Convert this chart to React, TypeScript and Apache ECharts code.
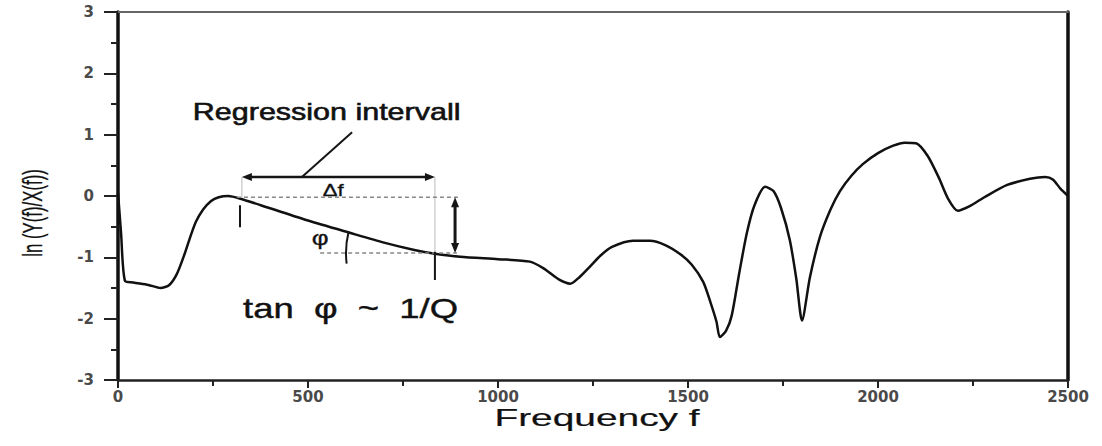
import React, { useEffect, useRef } from "react";
import * as echarts from "echarts";

// Frequency f (x) and ln(Y(f)/X(f)) (y)
const FREQ = [
  0, 8, 18, 40, 80, 112, 135, 155, 175, 190, 205, 224, 245, 265, 290, 320, 400, 500, 610, 700,
  780, 834, 900, 1000, 1084, 1120, 1160, 1190, 1215, 1242, 1270, 1300, 1355, 1400, 1440, 1480,
  1510, 1540, 1560, 1575, 1584, 1600, 1615, 1635, 1655, 1675, 1703, 1725, 1745, 1768, 1785, 1800,
  1821, 1847, 1875, 1900, 1930, 1960, 2000, 2040, 2070, 2100, 2130, 2160, 2185, 2210, 2240, 2280,
  2340, 2400, 2440, 2460, 2480, 2500,
];
const LN_RATIO = [
  0.05, -0.6, -1.38, -1.41, -1.45, -1.5, -1.45, -1.27, -0.95, -0.67, -0.42, -0.22, -0.08, -0.02,
  0.0, -0.04, -0.2, -0.4, -0.6, -0.76, -0.88, -0.94, -0.99, -1.03, -1.07, -1.18, -1.36, -1.43,
  -1.32, -1.15, -0.97, -0.83, -0.73, -0.73, -0.8, -0.95, -1.12, -1.4, -1.75, -2.05, -2.3, -2.2,
  -1.95, -1.25, -0.6, -0.15, 0.15, 0.08, -0.2, -0.72, -1.35, -2.03, -1.32, -0.67, -0.22, 0.08,
  0.33, 0.52, 0.7, 0.82, 0.87, 0.86, 0.66, 0.3, -0.05, -0.24, -0.17, -0.02, 0.18, 0.28, 0.31,
  0.27, 0.12, 0.0,
];
const X_TICKS = [0, 500, 1000, 1500, 2000, 2500];
const Y_TICKS = [-3, -2, -1, 0, 1, 2, 3];

export default function App() {
  const ref = useRef<HTMLDivElement>(null);
  useEffect(() => {
    if (!ref.current) return;
    const chart = echarts.init(ref.current, null, { renderer: "svg" });
    const xMin = X_TICKS[0];
    const xMax = X_TICKS[X_TICKS.length - 1];
    const yMin = Y_TICKS[0];
    const yMax = Y_TICKS[Y_TICKS.length - 1];
    const labelStyle = {
      fontFamily: "DejaVu Sans",
      fontWeight: "bold" as const,
      fontSize: 15,
      color: "#4a4a4a",
    };
    chart.setOption({
      animation: false,
      backgroundColor: "#fff",
      grid: { left: 118, right: 34, top: 12, bottom: 66 },
      xAxis: [
        {
          type: "value",
          position: "bottom",
          min: xMin,
          max: xMax,
          interval: 500,
          axisLine: { show: true, onZero: false, lineStyle: { color: "#222", width: 2.5 } },
          axisTick: { show: true, inside: false, length: 8, lineStyle: { color: "#222", width: 2 } },
          minorTick: { show: true, splitNumber: 2, length: 6, lineStyle: { color: "#222", width: 2 } },
          axisLabel: { ...labelStyle, margin: 9, formatter: (v: number) => String(v) },
          splitLine: { show: false },
        },
        {
          type: "value",
          position: "top",
          min: xMin,
          max: xMax,
          axisLine: { show: true, onZero: false, lineStyle: { color: "#666", width: 2 } },
          axisTick: { show: false },
          axisLabel: { show: false },
          splitLine: { show: false },
        },
      ],
      yAxis: [
        {
          type: "value",
          position: "left",
          min: yMin,
          max: yMax,
          interval: 1,
          axisLine: { show: true, onZero: false, lineStyle: { color: "#111", width: 3.5 } },
          axisTick: { show: true, inside: false, length: 14, lineStyle: { color: "#222", width: 2 } },
          minorTick: { show: true, splitNumber: 2, length: 7, lineStyle: { color: "#222", width: 2 } },
          axisLabel: { ...labelStyle, margin: 24 },
          splitLine: { show: false },
        },
        {
          type: "value",
          position: "right",
          min: yMin,
          max: yMax,
          axisLine: { show: true, onZero: false, lineStyle: { color: "#111", width: 3.5 } },
          axisTick: { show: false },
          axisLabel: { show: false },
          splitLine: { show: false },
        },
      ],
      series: [
        {
          type: "line",
          xAxisIndex: 0,
          yAxisIndex: 0,
          data: FREQ.map((f, i) => [f, LN_RATIO[i]]),
          smooth: 0.25,
          showSymbol: false,
          symbol: "none",
          lineStyle: { color: "#111", width: 2.5 },
          z: 3,
        },
      ],
    });

    const P = (f: number, v: number) => chart.convertToPixel({ gridIndex: 0 }, [f, v]) as number[];
    const dark = "#151515";
    const faint = "#bbb";
    const line = (a: number[], b: number[], stroke: string, lineWidth: number, dash?: number[]) => ({
      type: "line",
      shape: { x1: a[0], y1: a[1], x2: b[0], y2: b[1] },
      style: { stroke, lineWidth, lineDash: dash },
      z: 10,
    });
    const head = (tip: number[], dir: "l" | "r" | "u" | "d", len = 10, half = 4) => {
      const [x, y] = tip;
      let pts: number[][] = [];
      if (dir === "l") pts = [[x, y], [x + len, y - half], [x + len, y + half]];
      if (dir === "r") pts = [[x, y], [x - len, y - half], [x - len, y + half]];
      if (dir === "u") pts = [[x, y], [x - half, y + len], [x + half, y + len]];
      if (dir === "d") pts = [[x, y], [x - half, y - len], [x + half, y - len]];
      return { type: "polygon", shape: { points: pts }, style: { fill: dark }, z: 11 };
    };
    const text = (
      pos: number[],
      t: string,
      size: number,
      scaleX: number,
      align = "left",
      extra: Record<string, unknown> = {},
      weight = 0.6
    ) => ({
      type: "text",
      x: pos[0],
      y: pos[1],
      scaleX,
      style: {
        text: t,
        fontSize: size,
        fontFamily: "Liberation Sans",
        fill: "#111",
        stroke: "#111",
        lineWidth: weight,
        align,
        verticalAlign: "middle",
      },
      z: 12,
      ...extra,
    });

    const arrL = P(326, 0.31);
    const arrR = P(834, 0.31);
    const topL = P(313, -0.02);
    const topR = P(902, -0.02);
    const lowL = P(532, -0.93);
    const lowR = P(892, -0.93);
    const vTop = P(887, -0.02);
    const vBot = P(887, -0.93);
    const vertex = P(834, -0.93);
    const rad = vertex[0] - P(600, -0.93)[0];

    chart.setOption({
      graphic: [
        // faint guide lines
        line(P(326, 0.31), P(326, -0.02), faint, 1),
        line(P(834, 0.31), P(834, -0.93), faint, 1),
        // dashed reference lines
        line(topL, topR, "#888", 1.5, [4, 3]),
        line(lowL, lowR, "#888", 1.5, [4, 3]),
        // regression interval arrow
        line([arrL[0] + 6, arrL[1]], [arrR[0] - 6, arrR[1]], dark, 2.5),
        head(arrL, "l"),
        head(arrR, "r"),
        // leader line
        line(P(616, 1.04), P(484, 0.31), dark, 2),
        // vertical double arrow
        line([vTop[0], vTop[1] + 6], [vBot[0], vBot[1] - 6], dark, 3),
        head(vTop, "u"),
        head(vBot, "d"),
        // interval end marks
        line(P(321, -0.15), P(321, -0.51), dark, 2),
        line(P(834, -0.91), P(834, -1.37), dark, 2),
        // angle arc
        {
          type: "arc",
          shape: {
            cx: vertex[0],
            cy: vertex[1],
            r: rad,
            startAngle: Math.PI - 0.12,
            endAngle: Math.PI + 0.24,
            clockwise: true,
          },
          style: { stroke: dark, lineWidth: 2, fill: "none" },
          z: 10,
        },
        text(P(197, 1.37), "Regression intervall", 24, 1.27),
        text(P(566, 0.1), "Δf", 17, 1.3, "center", {}, 0.3),
        text(P(532, -0.68), "φ", 20, 1.3, "center", {}, 0.3),
        text(P(329, -1.84), "tan  φ  ~  1/Q", 27, 1.35, "left", {}, 0.4),
        text([597, 418], "Frequency f", 24, 1.62, "center", {}, 0.2),
        text([32, 213], "ln (Y(f)/X(f))", 28, 0.6, "center", { rotation: Math.PI / 2 }, 0.3),
      ],
    });

    return () => chart.dispose();
  }, []);
  return (
    <div
      ref={ref}
      style={{ position: "absolute", left: 0, top: 0, width: 1102, height: 446, background: "#fff" }}
    />
  );
}
